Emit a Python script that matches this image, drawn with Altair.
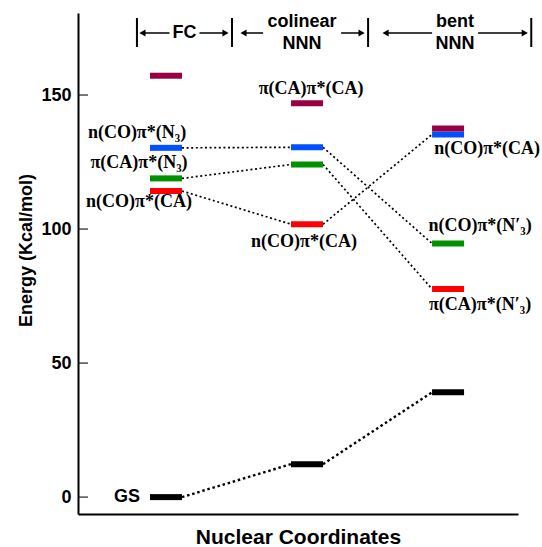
import altair as alt
import pandas as pd

# Nuclear geometries along the reaction coordinate
geometry = ["FC", "colinear NNN", "bent NNN"]
geometry_pos = [0, 1, 2]

# State energies (kcal/mol) at the FC, colinear and bent geometries
energy_gs = [0.0, 12.3, 39.1]
energy_maroon = [157.2, 146.9, 137.5]
energy_blue = [130.3, 130.5, 135.3]
energy_green = [118.9, 124.1, 94.6]
energy_red = [114.2, 101.8, 77.6]

state_names = ["gs", "maroon", "blue", "green", "red"]
state_colors = ["#000000", "#990044", "#0050ff", "#009000", "#ff0000"]
energies = {
    "gs": energy_gs,
    "maroon": energy_maroon,
    "blue": energy_blue,
    "green": energy_green,
    "red": energy_red,
}

# Correlation paths (state followed from one geometry to the next)
paths = [
    ["gs", "gs", "gs"],
    ["blue", "blue", "green"],
    ["green", "green", "red"],
    ["red", "red", "blue"],
]

# State labels: text, state, geometry index, pixel offset
label_text = [
    "n(CO)π*(N₃)", "π(CA)π*(N₃)", "n(CO)π*(CA)", "GS",
    "π(CA)π*(CA)", "n(CO)π*(CA)",
    "n(CO)π*(CA)", "n(CO)π*(N′₃)", "π(CA)π*(N′₃)",
]
label_state = ["blue", "green", "red", "gs", "maroon", "red", "blue", "green", "red"]
label_geom = [0, 0, 0, 0, 1, 1, 2, 2, 2]
label_dx = [-29, -27, -27, -39, 4, -3, 39, 32, 32]
label_dy = [-15, -15, 11, 0, -14, 18, 15, -18, 16]

# Region headers along the nuclear coordinate
header_lines = [["FC"], ["colinear", "NNN"], ["bent", "NNN"]]
header_center = [0.131, 0.965, 2.05]
header_edges = [-0.206, 0.468, 1.433, 2.59]
header_gap_px = [15, 39, 23]
header_inset_px = [2, 8, 14]

y_ticks = [0, 50, 100, 150]

X_DOMAIN = [-0.624, 2.496]
Y_DOMAIN = [-6.3, 180.6]
PLOT_W, PLOT_H = 440, 501
PX_X = PLOT_W / (X_DOMAIN[1] - X_DOMAIN[0])
PX_Y = PLOT_H / (Y_DOMAIN[1] - Y_DOMAIN[0])
HALF_BAR = 16 / PX_X

xs = alt.Scale(domain=X_DOMAIN, nice=False, zero=False)
ys = alt.Scale(domain=Y_DOMAIN, nice=False, zero=False)

# ---- level bars
level_rows = []
for s in ["gs", "blue", "green", "red", "maroon"]:
    for g, e in zip(geometry_pos, energies[s]):
        level_rows.append({"state": s, "x0": g - HALF_BAR, "x1": g + HALF_BAR, "energy": e})
levels = pd.DataFrame(level_rows)

x_axis = alt.Axis(
    title="Nuclear Coordinates", labels=False, ticks=False, grid=False,
    domainColor="black", domainWidth=2,
    titleFont="Liberation Sans", titleFontSize=21, titleFontWeight="bold",
    titleColor="black", titleBaseline="middle", titleY=23,
)
y_axis = alt.Axis(
    title="Energy (Kcal/mol)", values=y_ticks, ticks=False, grid=False,
    domainColor="black", domainWidth=2,
    labelFont="Liberation Sans", labelFontSize=18, labelFontWeight="bold",
    labelColor="black", labelPadding=7,
    titleFont="Liberation Sans", titleFontSize=18, titleFontWeight="bold",
    titleColor="black", titleBaseline="middle", titleX=-52, titleY=237,
)

bars = alt.Chart(levels).mark_rule(strokeWidth=6, strokeCap="butt").encode(
    x=alt.X("x0:Q", scale=xs, axis=x_axis),
    x2="x1:Q",
    y=alt.Y("energy:Q", scale=ys, axis=y_axis),
    color=alt.Color("state:N", scale=alt.Scale(domain=state_names, range=state_colors), legend=None),
)

# ---- dotted correlation lines
seg_rows = []
for p in paths:
    for i in range(len(geometry_pos) - 1):
        seg_rows.append({
            "ground": p[0] == "gs",
            "x0": geometry_pos[i] + HALF_BAR,
            "y0": energies[p[i]][i],
            "x1": geometry_pos[i + 1] - HALF_BAR,
            "y1": energies[p[i + 1]][i + 1],
        })
segs = pd.DataFrame(seg_rows)

def seg_layer(df, width, dash):
    return alt.Chart(df).mark_rule(color="black", strokeWidth=width, strokeDash=dash).encode(
        x=alt.X("x0:Q", scale=xs), x2="x1:Q",
        y=alt.Y("y0:Q", scale=ys), y2="y1:Q",
    )

lines_ex = seg_layer(segs[~segs["ground"]], 1.7, [2, 2.6])
lines_gs = seg_layer(segs[segs["ground"]], 2.4, [2.5, 2.8])

# ---- inward tick marks on the energy axis
ticks = alt.Chart(pd.DataFrame({"v": y_ticks})).mark_tick(
    orient="horizontal", size=10, thickness=1.5, color="black"
).encode(x=alt.value(5), y=alt.Y("v:Q", scale=ys))

# ---- state labels
label_layers = []
for t, s, g, dx, dy in zip(label_text, label_state, label_geom, label_dx, label_dy):
    is_gs = s == "gs"
    df = pd.DataFrame({"x": [geometry_pos[g]], "y": [energies[s][g]], "t": [t]})
    label_layers.append(
        alt.Chart(df).mark_text(
            font="Liberation Sans" if is_gs else "Liberation Serif",
            fontSize=18, fontWeight="bold", color="black",
            align="center", baseline="middle", dx=dx, dy=dy,
        ).encode(x=alt.X("x:Q", scale=xs), y=alt.Y("y:Q", scale=ys), text="t:N")
    )

# ---- region headers with bracket arrows
y_top = Y_DOMAIN[1] - 5 / PX_Y
y_bracket_low = Y_DOMAIN[1] - 34 / PX_Y
y_mid = Y_DOMAIN[1] - 20 / PX_Y

bracket_df = pd.DataFrame({"x": header_edges, "y": [y_bracket_low] * 4, "y2": [y_top] * 4})
brackets = alt.Chart(bracket_df).mark_rule(color="black", strokeWidth=2).encode(
    x=alt.X("x:Q", scale=xs), y=alt.Y("y:Q", scale=ys), y2="y2:Q"
)

shaft_rows, head_rows, text_rows = [], [], []
for i, (lines, c, gap, inset) in enumerate(zip(header_lines, header_center, header_gap_px, header_inset_px)):
    left, right = header_edges[i] + inset / PX_X, header_edges[i + 1] - 3 / PX_X
    g = gap / PX_X
    shaft_rows.append({"x": left + 2 / PX_X, "x2": c - g, "y": y_mid})
    shaft_rows.append({"x": c + g, "x2": right - 2 / PX_X, "y": y_mid})
    head_rows.append({"x": left + 3.5 / PX_X, "y": y_mid, "dir": "triangle-left"})
    head_rows.append({"x": right - 3.5 / PX_X, "y": y_mid, "dir": "triangle-right"})
    if len(lines) == 1:
        text_rows.append({"x": c, "y": y_mid, "t": lines[0]})
    else:
        text_rows.append({"x": c, "y": y_mid + 11 / PX_Y, "t": lines[0]})
        text_rows.append({"x": c, "y": y_mid - 11 / PX_Y, "t": lines[1]})

shafts = alt.Chart(pd.DataFrame(shaft_rows)).mark_rule(color="black", strokeWidth=1.5).encode(
    x=alt.X("x:Q", scale=xs), x2="x2:Q", y=alt.Y("y:Q", scale=ys)
)
heads = alt.Chart(pd.DataFrame(head_rows)).mark_point(
    filled=True, color="black", size=50, opacity=1
).encode(
    x=alt.X("x:Q", scale=xs), y=alt.Y("y:Q", scale=ys),
    shape=alt.Shape("dir:N", scale=alt.Scale(domain=["triangle-left", "triangle-right"],
                                              range=["triangle-left", "triangle-right"]), legend=None),
)
header_text = alt.Chart(pd.DataFrame(text_rows)).mark_text(
    font="Liberation Sans", fontSize=18, fontWeight="bold", color="black",
    align="center", baseline="middle",
).encode(x=alt.X("x:Q", scale=xs), y=alt.Y("y:Q", scale=ys), text="t:N")

chart = alt.layer(
    lines_ex, lines_gs, bars, ticks, *label_layers, brackets, shafts, heads, header_text
).properties(
    width=PLOT_W, height=PLOT_H,
    autosize=alt.AutoSizeParams(type="none"),
    padding={"left": 78, "top": 13, "right": 24, "bottom": 33},
    background="white",
).configure_view(stroke=None)

chart.save("out.html", embed_options={"renderer": "svg", "actions": False})
